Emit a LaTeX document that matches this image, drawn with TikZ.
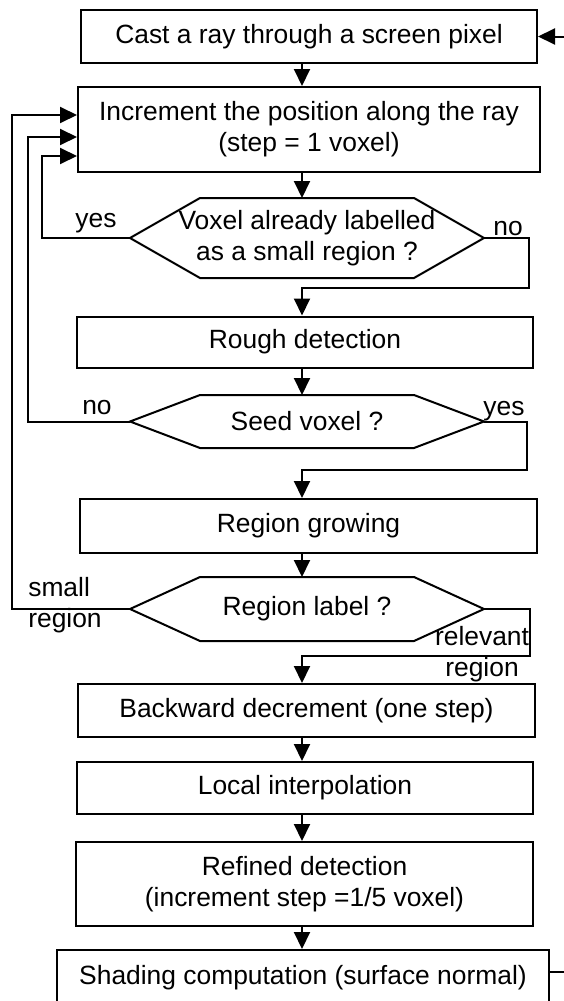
\documentclass[tikz,border=0pt]{standalone}
\usepackage{fontspec}
\setmainfont{Liberation Sans}
\usetikzlibrary{arrows.meta,calc}

\begin{document}
\begin{tikzpicture}[x=0.5pt,y=-0.5pt,line width=1pt,
        box/.style={draw,align=center,inner sep=0pt,font=\fontsize{13.2}{15.5}\selectfont},
        test/.style={align=center,inner sep=0pt,minimum width=176pt,font=\fontsize{13.2}{15.5}\selectfont},
        lbl/.style={align=center,inner sep=0pt,font=\fontsize{13.2}{15.5}\selectfont},
        arr/.style={-{Triangle[length=8.5pt,width=8pt]}}]
        \useasboundingbox (0,0) rectangle (563,1001);
        \coordinate (spine) at (302,0);
        \coordinate (entry) at (580,36.5);
        \coordinate (exit) at (580,972);
        % boxes
        \node[box,minimum width=228pt,minimum height=26.5pt] (cast) at (309,36.5) {Cast a ray through a screen pixel};
        \node[box,minimum width=231pt,minimum height=42.5pt] (incr) at (309,129.5) {Increment the position along the ray\\(step = 1 voxel)};
        \node[test,minimum height=39pt] (vox) at (307,238) {Voxel already labelled\\as a small region ?};
        \node[box,minimum width=228pt,minimum height=25.5pt] (rough) at (305,342) {Rough detection};
        \node[test,minimum height=25.5pt] (seed) at (307,421.5) {Seed voxel ?};
        \node[box,minimum width=228.5pt,minimum height=27pt] (grow) at (308.5,526) {Region growing};
        \node[test,minimum height=31pt] (label) at (307,609) {Region label ?};
        \node[box,minimum width=228.5pt,minimum height=26.5pt] (back) at (306.5,710.5) {Backward decrement (one step)};
        \node[box,minimum width=228pt,minimum height=26pt] (interp) at (305,788) {Local interpolation};
        \node[box,minimum width=228.5pt,minimum height=42pt] (refine) at (304.5,884) {Refined detection\\(increment step =1/5 voxel)};
        \node[box,minimum width=246pt,minimum height=28pt] (shade) at (303,978) {Shading computation (surface normal)};
        % tests
        \foreach \d in {vox,seed,label}
            \draw (\d.west) -- ($(\d.north west)+(70,0)$) -- ($(\d.north east)+(-70,0)$) -- (\d.east)
                -- ($(\d.south east)+(-70,0)$) -- ($(\d.south west)+(70,0)$) -- cycle;
        % straight flow
        \draw[arr] (entry) -- (cast.east);
        \draw[arr] (cast.south -| spine) -- (incr.north -| spine);
        \draw[arr] (incr.south -| spine) -- (vox.north -| spine);
        \draw[arr] (rough.south -| spine) -- (seed.north -| spine);
        \draw[arr] (grow.south -| spine) -- (label.north -| spine);
        \draw[arr] (back.south -| spine) -- (interp.north -| spine);
        \draw[arr] (interp.south -| spine) -- (refine.north -| spine);
        \draw[arr] (refine.south -| spine) -- (shade.north -| spine);
        \draw (shade.east |- exit) -- (exit);
        % branches to the right
        \draw[arr] (vox.east) -- ++(45,0) |- ($(rough.north -| spine)+(0,-28)$) -- (rough.north -| spine);
        \draw[arr] (seed.east) -- ++(43,0) |- ($(grow.north -| spine)+(0,-28)$) -- (grow.north -| spine);
        \draw[arr] (label.east) -- ++(46,0) |- ($(back.north -| spine)+(0,-27)$) -- (back.north -| spine);
        % loops back
        \draw[arr] (vox.west) -- ++(-88,0) |- ($(incr.west)+(0,26.5)$);
        \draw[arr] (seed.west) -- ++(-102,0) |- ($(incr.west)+(0,7.5)$);
        \draw[arr] (label.west) -- ++(-118,0) |- ($(incr.west)+(0,-14.5)$);
        % labels
        \node[lbl] (yes1) at (96,223) {yes};
        \node[lbl] (no1) at (508,229) {no};
        \node[lbl] (no2) at (97,408) {no};
        \node[lbl] (yes2) at (504,411) {yes};
        \node[lbl,align=left] (small) at (65,605) {small\\region};
        \node[lbl] (relevant) at (482,654) {relevant\\region};
    \end{tikzpicture}
\end{document}
